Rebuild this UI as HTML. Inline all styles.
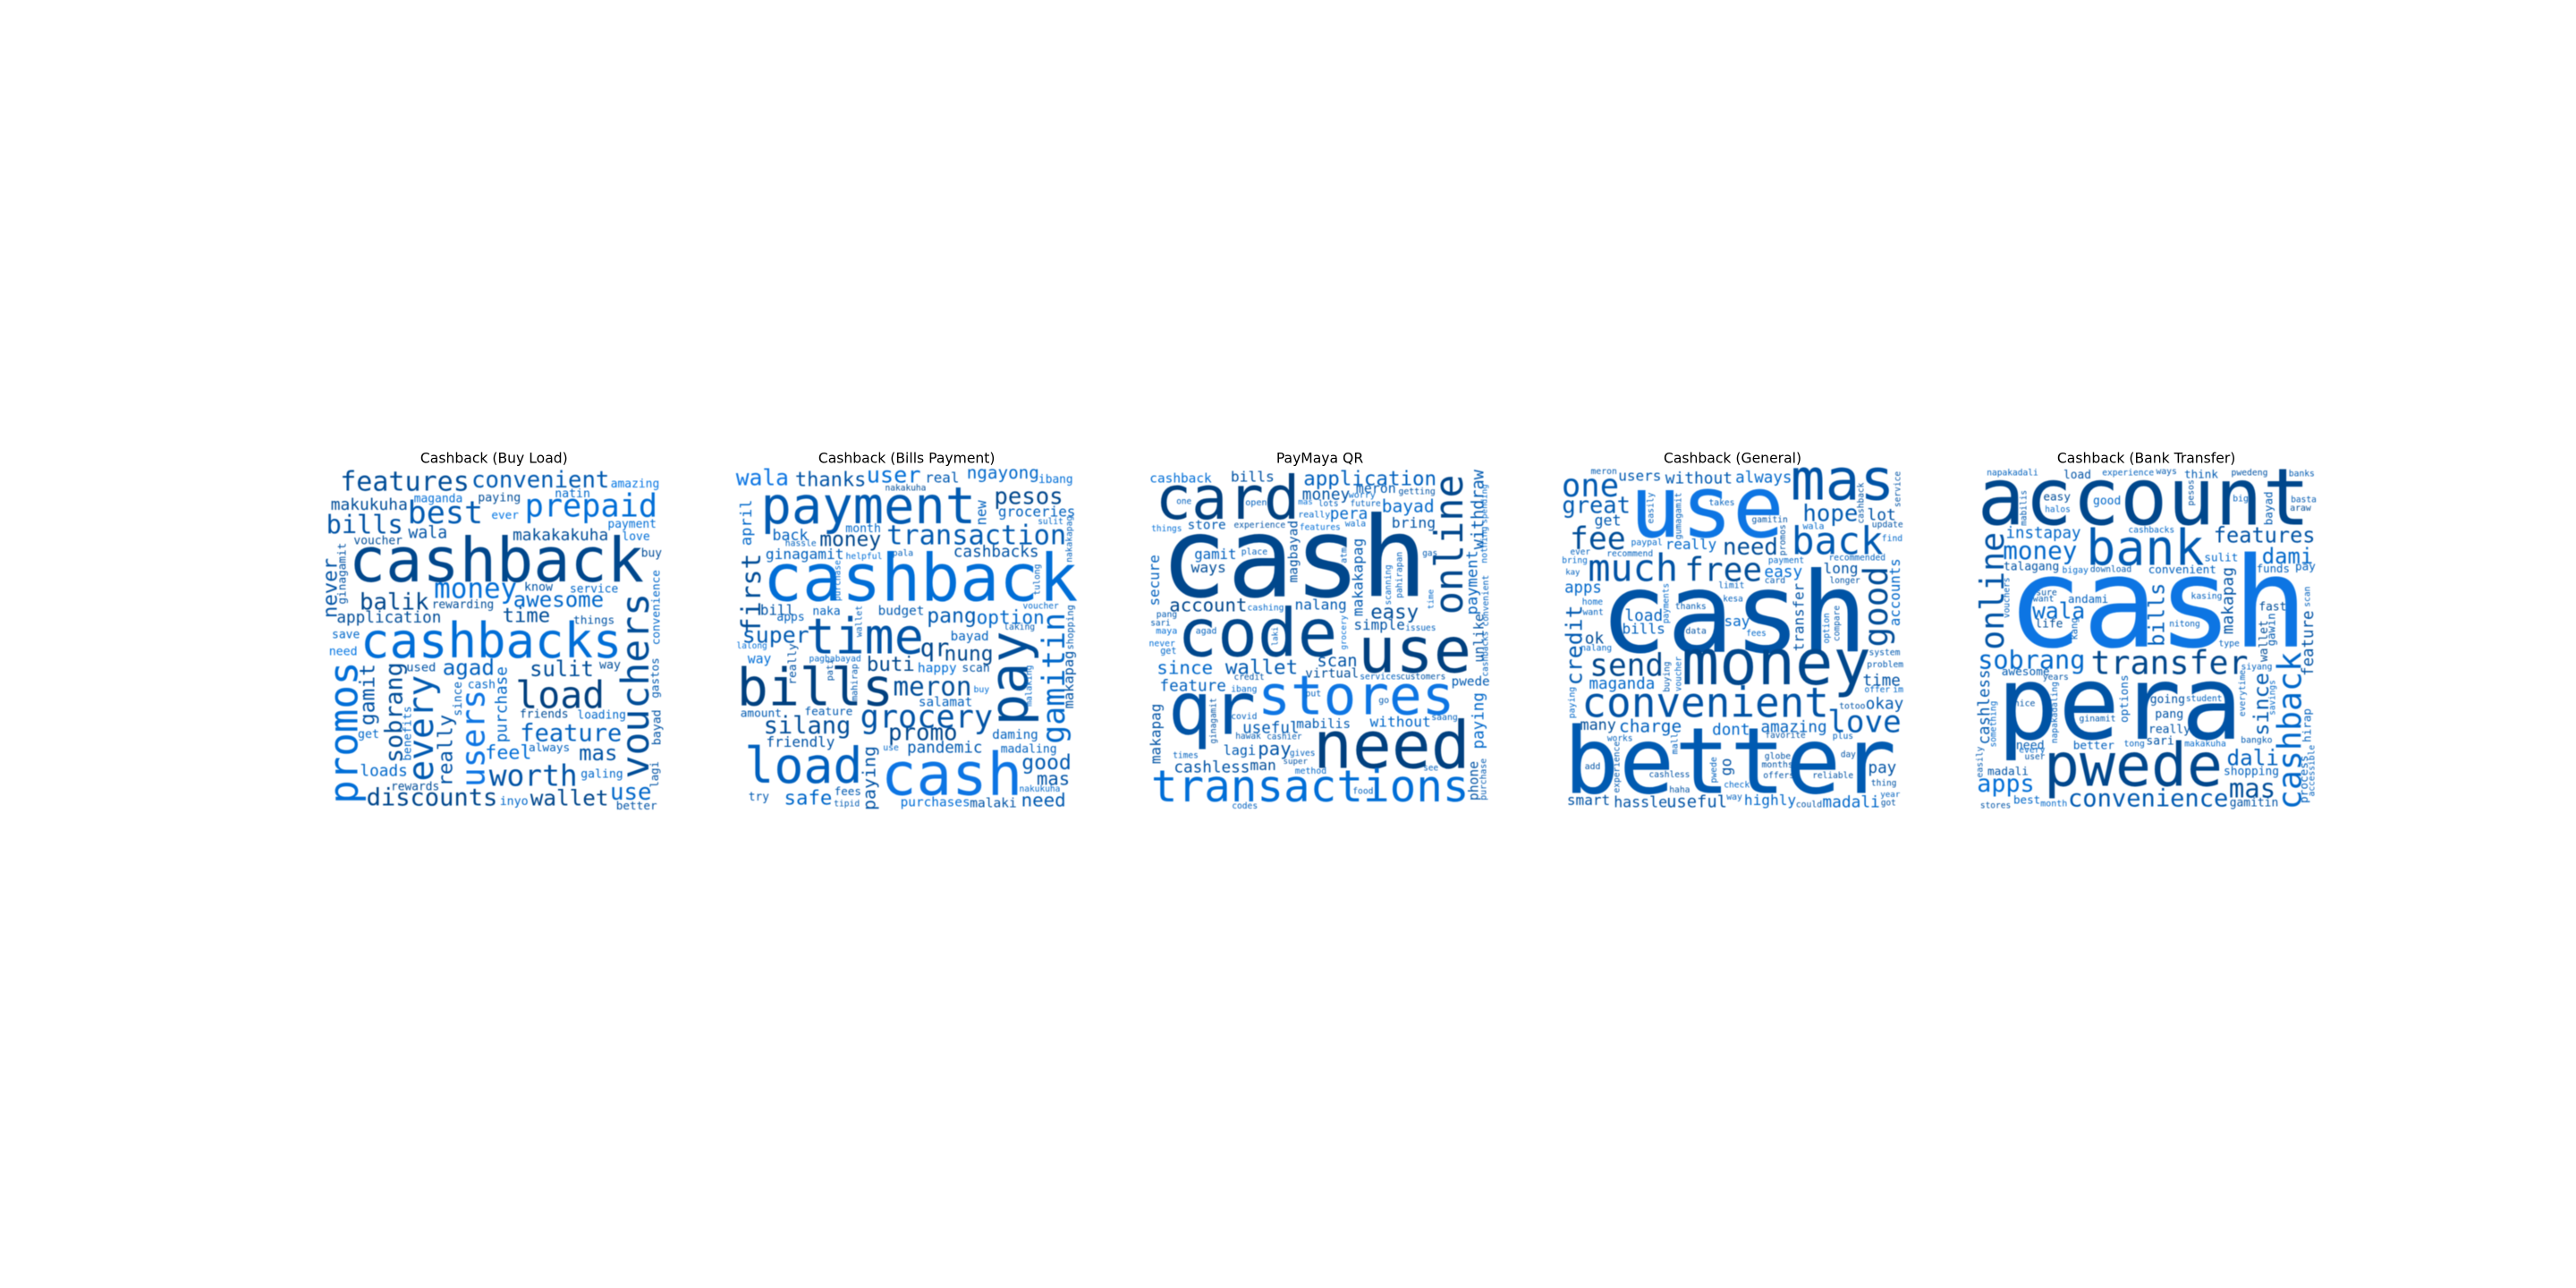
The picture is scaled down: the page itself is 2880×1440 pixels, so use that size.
<!DOCTYPE html>
<html lang="en">
<head>
<meta charset="utf-8">
<title>Cashback word clouds</title>
<style>
html,body{margin:0;padding:0;background:#fff;width:2880px;height:1440px;overflow:hidden}
svg{display:block}
.t{font-family:"DejaVu Sans","Liberation Sans",sans-serif;font-size:15.6px;fill:#000;text-anchor:middle}
.w{font-family:"DejaVu Sans Mono","Liberation Mono",monospace}
</style>
</head>
<body>
<svg id="chart" width="2880" height="1440" viewBox="0 0 2880 1440" xmlns="http://www.w3.org/2000/svg">
<defs><filter id="soft" x="-5%" y="-5%" width="110%" height="110%"><feGaussianBlur stdDeviation="0.4"/></filter></defs>
<rect width="2880" height="1440" fill="#fff"/>
</svg>
<script>
// Each row: word, left, baseline, ink length, colour shade 0-9, vertical flag (cloud units)
const buyLoad=[["features",125,175,425,2],["convenient",565,165,455,4],["amazing",1030,165,160,8],["natin",843,198,115,6],["maganda",370,215,160,7],["paying",585,212,140,2],["makukuha",92,240,253,2],["best",352,285,243,4],["prepaid",745,262,435,7],["ever",630,270,88,8],["bills",78,318,250,3],["payment",1020,300,160,7],["wala",352,335,126,3],["makakakuha",702,342,316,2],["love",1068,342,90,7],["voucher",168,356,160,2],["cashback",160,480,970,1],["buy",1132,398,66,2],["never",110,600,195,3,1],["ginagamit",140,555,203,3,1],["money",440,535,270,7],["know",740,512,92,3],["service",893,518,159,6],["balik",190,575,225,1],["rewarding",430,570,205,2],["awesome",705,565,297,6],["convenience",1192,692,249,6,1],["time",668,617,154,2],["application",112,618,346,2],["things",905,622,135,3],["vouchers",1155,1135,610,2,1],["save",95,670,90,6],["cashbacks",197,735,861,7],["need",85,728,92,8],["promos",178,1220,465,7,1],["used",345,782,95,3],["way",992,772,68,2],["agad",468,793,167,5],["sulit",760,798,208,2],["gamit",235,960,200,3,1],["sobrang",328,1085,330,2,1],["every",432,1145,345,4,1],["users",605,1165,317,8,1],["since",528,930,112,5,1],["cash",550,838,90,6],["purchase",680,1018,250,6,1],["load",715,905,287,0],["gastos",1190,870,132,4,1],["friends",725,938,160,2],["loading",918,940,160,6],["really",497,1165,235,3,1],["bayad",1195,1028,116,3,1],["feature",728,1015,334,5],["get",182,1005,68,6],["benefits",358,1080,180,6,1],["feel",610,1075,150,7],["always",755,1050,135,5],["mas",925,1080,123,3],["lagi",1188,1170,85,3,1],["loads",190,1132,155,6],["worth",625,1165,287,3],["galing",930,1138,138,6],["rewards",293,1180,159,2],["discounts",213,1232,432,1],["inyo",658,1230,92,6],["wallet",762,1232,256,1],["use",1030,1212,132,6],["better",1048,1245,134,3]];
const billsPayment=[["wala",72,158,170,8],["thanks",270,160,232,3],["user",510,148,175,7],["real",705,148,110,4],["ngayong",845,135,238,6],["ibang",1085,150,112,7],["nakakuha",570,175,135,2],["payment",160,285,705,4],["pesos",938,220,224,1],["new",908,290,80,5,1],["groceries",950,263,255,5],["april",120,358,150,6,1],["sulit",1082,288,83,6],["month",438,315,115,6],["transaction",578,355,594,4],["nakakapag",1195,415,153,5,1],["back",193,342,115,5],["money",352,362,200,1],["hassle",235,362,102,5],["first",150,650,260,2,1],["ginagamit",170,405,258,5],["cashbacks",800,398,282,3],["pala",595,395,67,5],["helpful",438,405,120,7],["purchase",418,545,135,7,1],["cashback",170,545,1035,7],["tulong",1088,525,102,5,1],["voucher",1032,572,118,6],["bill",152,592,110,3],["naka",327,592,90,5],["budget",547,592,151,4],["apps",207,612,90,5],["pang",712,618,160,4],["option",878,622,222,6],["shopping",1200,708,148,4,1],["laking",968,642,102,4],["wallet",490,665,103,5,1],["super",93,685,217,4],["time",310,722,380,3],["gamitin",1170,1020,430,6,1],["bayad",790,678,125,5],["lalong",72,705,100,7],["qr",690,730,90,1],["pay",1045,955,300,2,1],["nung",770,745,158,1],["really",270,825,135,3,1],["way",110,755,75,7],["pagbabayad",315,748,172,6],["makapag",1200,905,190,3,1],["buti",510,780,155,1],["happy",680,785,127,7],["scan",828,783,90,3],["pati",393,812,70,3,1],["mahirap",475,880,122,4,1],["malaking",1060,898,136,6,1],["bills",80,895,508,0],["meron",600,862,255,2],["buy",867,852,50,7],["salamat",683,898,177,5],["amount",85,935,135,4],["feature",300,928,158,4],["grocery",490,970,435,3],["silang",165,990,285,2],["promo",583,1012,225,1],["daming",930,1008,150,5],["friendly",172,1035,226,3],["pandemic",645,1055,248,4],["use",563,1047,50,6],["madaling",958,1055,185,5],["paying",535,1245,210,3,1],["good",1030,1110,160,4],["load",105,1155,380,5],["cash",565,1195,455,8],["mas",1080,1162,105,3],["nakukuha",1020,1185,135,6],["fees",400,1197,87,4],["try",112,1215,66,4],["safe",233,1228,155,6],["tipid",398,1235,84,4],["purchases",622,1235,230,7],["malaki",855,1237,153,3],["need",1028,1235,144,4]];
const payMayaQr=[["cashback",78,148,204,7],["bills",350,145,142,3],["application",595,158,440,5],["card",105,270,465,0],["online",1125,585,457,1,1],["withdraw",1195,370,262,4,1],["meron",770,183,130,4],["money",590,205,155,3],["worry",745,200,87,6],["getting",912,187,121,3],["spending",1208,285,130,6,1],["one",167,220,48,5],["open",398,225,70,5],["mas",575,222,47,7],["lots",643,228,65,5],["future",750,228,100,5],["bayad",857,248,171,6],["really",575,265,105,6],["pera",683,270,122,6],["store",205,305,125,4],["experience",360,300,170,3],["things",83,312,100,7],["features",580,308,135,7],["wala",733,295,67,6],["bring",890,300,143,3],["nothing",1208,418,121,6,1],["magbayad",572,482,204,3,1],["cash",130,530,860,1],["makakapag",790,595,257,4,1],["payment",1175,590,212,5,1],["place",385,390,85,5],["gamit",228,405,137,5],["gas",992,395,48,4],["atm",736,418,50,5,1],["secure",108,560,167,5,1],["ways",217,450,113,2],["pahirapan",922,535,153,5,1],["scanning",885,558,133,6,1],["convenient",1212,630,170,5,1],["time",1028,572,64,6,1],["account",145,580,255,1],["cashing",405,578,120,6],["nalang",565,575,170,4],["easy",820,605,155,2],["pang",100,600,67,4],["sari",80,628,65,4],["maya",98,655,69,7],["agad",232,655,68,5],["simple",763,642,167,3],["issues",935,645,100,5],["grocery",735,708,113,7,1],["unlike",1195,750,160,3,1],["code",180,730,515,1],["laki",505,695,62,5,1],["use",785,785,360,0],["cashbacks",1210,798,150,5,1],["never",75,698,85,7],["get",113,723,52,6],["scan",640,765,130,3],["since",103,790,182,6],["wallet",333,790,237,4],["virtual",600,802,175,2],["credit",360,810,100,3],["services",782,808,136,5],["customers",918,808,150,3],["pwede",1090,830,125,4],["feature",112,848,218,5],["ibang",350,850,85,6],["stores",448,925,642,8],["put",600,865,50,5],["go",845,888,33,4],["paying",1195,1040,185,6,1],["qr",150,992,270,3],["makapag",112,1090,198,3,1],["ginagamit",298,1023,151,3,1],["covid",350,942,85,5],["saang",1022,945,86,5],["without",817,968,200,6],["useful",390,988,185,4],["mabilis",570,972,178,4],["hawak",365,1008,83,4],["cashier",470,1010,115,4],["need",635,1105,505,0],["lagi",325,1062,105,4],["pay",442,1062,106,3],["gives",547,1065,83,5],["times",155,1072,83,5],["super",525,1092,80,3],["man",415,1113,83,2],["cashless",160,1120,250,3],["phone",1178,1213,128,3,1],["purchase",1205,1213,138,4,1],["see",995,1115,48,5],["method",565,1125,103,6],["transactions",88,1218,1052,7],["food",758,1192,67,5],["codes",353,1242,84,5]];
const generalCashback=[["meron",177,120,85,4],["users",270,142,140,4],["without",428,152,220,4],["always",663,148,185,6],["mas",855,205,330,3],["service",1213,230,118,3,1],["one",83,195,182,4],["use",320,330,490,8],["cashback",1090,285,135,3,1],["great",83,250,222,4],["takes",573,225,84,5],["easily",385,285,102,5,1],["gumagamit",478,338,155,5,1],["hope",890,278,178,4],["lot",1105,275,92,3],["get",190,292,85,4],["gamitin",717,282,118,3],["update",1120,298,102,3],["wala",888,305,69,6],["fee",110,372,178,2],["promos",828,392,102,3,1],["back",855,388,295,4],["find",1153,345,67,6],["paypal",312,358,103,6],["really",428,372,167,6],["need",622,390,178,2],["ever",108,390,65,5],["recommend",230,396,153,5],["bring",80,418,83,6],["payment",772,418,118,6],["recommended",975,410,188,5],["much",172,478,290,3],["free",495,478,250,2],["easy",760,465,123,7],["long",958,453,112,3],["kay",92,458,46,5],["accounts",1212,628,223,6,1],["good",1170,695,260,2,1],["card",760,486,67,4],["longer",978,486,100,3],["transfer",890,712,224,3,1],["apps",90,518,120,6],["limit",605,503,85,5],["payments",437,620,133,6,1],["cash",225,715,860,3],["kesa",620,547,65,5],["home",148,558,67,6],["thanks",460,573,102,4],["want",150,593,67,5],["compare",1010,680,118,4,1],["load",292,612,123,5],["option",975,687,100,6,1],["say",625,630,82,6],["credit",145,825,262,4,1],["bills",283,655,140,5],["data",495,656,67,3],["fees",698,663,65,6],["ok",158,688,59,2],["nalang",143,713,102,6],["system",1110,728,102,4],["send",177,797,238,1],["money",490,825,615,1],["problem",1103,768,120,4],["buying",440,850,100,4,1],["voucher",478,848,115,6,1],["time",1090,830,122,3],["maganda",172,840,216,6],["offer",1095,852,83,6],["im",1190,852,33,6],["paying",122,938,103,6,1],["convenient",152,935,816,3],["totoo",1010,908,85,3],["okay",1100,908,122,4],["love",975,985,237,4],["many",142,978,116,2],["charge",273,985,205,5],["dont",585,995,122,6],["amazing",748,985,217,5],["favorite",762,1005,133,3],["plus",988,1008,67,5],["works",232,1015,83,5],["mall",467,1058,68,5,1],["experience",272,1188,170,4,1],["globe",760,1075,85,3],["day",1015,1070,48,3],["months",750,1104,103,3],["better",100,1190,1085,4],["go",647,1130,55,3,1],["pwede",597,1155,85,5,1],["add",157,1110,50,3],["pay",1108,1122,90,3],["cashless",372,1137,135,3],["offers",755,1140,102,3],["reliable",920,1140,135,3],["thing",1117,1165,83,3],["check",623,1172,84,6],["haha",440,1188,67,3],["year",1148,1203,64,5],["way",632,1212,50,5],["highly",692,1230,170,6],["smart",98,1230,140,3],["hassle",255,1237,175,3],["useful",432,1237,198,3],["could",865,1238,85,3],["madali",955,1238,188,6],["got",1150,1232,48,3]];
const bankTransfer=[["napakadali",125,125,170,5],["load",383,135,89,3],["experience",512,125,171,5],["ways",693,120,67,4],["think",788,133,110,4],["pwedeng",945,125,120,3],["banks",1138,128,84,4],["account",105,290,1090,1],["pesos",817,225,85,3,1],["mabilis",257,292,117,4,1],["easy",315,208,88,2],["good",482,222,90,6],["big",950,212,50,5],["bayad",1082,290,110,4,1],["basta",1145,215,83,4],["halos",320,248,83,6],["araw",1142,243,68,2],["cashbacks",600,316,152,6],["instapay",190,335,247,6],["features",888,350,334,3],["bank",465,425,380,4],["online",180,705,385,3,1],["money",182,405,241,6],["dami",1050,420,165,6],["sulit",855,413,110,6],["talagang",182,443,183,3],["bigay",378,452,85,6],["download",472,448,136,4],["convenient",667,453,225,5],["funds",1030,450,108,5],["pay",1160,442,65,5],["makapag",950,655,220,3,1],["bills",718,695,207,5,1],["vouchers",200,602,134,5,1],["scan",1207,565,67,5,1],["sure",290,527,68,3],["want",280,547,68,4],["kasing",810,538,102,5],["andami",398,552,132,5],["cash",213,698,967,8],["fast",1038,578,89,2],["wala",280,605,170,6],["life",288,635,89,2],["kang",427,675,72,5,1],["nitong",737,632,101,5],["feature",1218,795,215,3,1],["gawin",1090,695,107,4,1],["wallet",1065,748,136,2,1],["type",903,698,67,5],["sobrang",98,772,352,6],["transfer",478,790,517,1],["siyang",978,775,102,5],["awesome",175,795,158,4],["years",313,810,84,3],["cashless",132,1025,247,4,1],["everytime",990,932,154,5,1],["cashback",1178,1240,518,6,1],["since",1068,995,205,4,1],["options",597,952,157,5,1],["napakadaling",360,1022,204,5,1],["savings",1090,928,116,6,1],["pera",175,1008,790,3],["going",673,888,114,3],["student",793,882,119,5],["nice",217,898,68,3],["something",155,1035,153,6,1],["hirap",1210,1018,110,5,1],["pang",690,938,92,3],["ginamit",435,950,120,4],["really",668,988,137,3],["sari",660,1028,90,3],["tong",585,1033,67,5],["makakuha",788,1033,137,6],["bangko",977,1022,103,4],["need",223,1042,92,4],["better",415,1043,135,5],["every",233,1055,85,6],["user",252,1077,66,3],["easily",110,1137,102,4,1],["accessible",1222,1200,170,5,1],["process",1200,1222,157,5,1],["dali",932,1097,168,5],["pwede",325,1165,580,1],["shopping",920,1130,182,5],["madali",128,1130,134,3],["apps",95,1185,185,7],["mas",940,1205,148,2],["convenience",400,1235,530,4],["best",215,1225,87,6],["month",305,1235,87,6],["gamitin",940,1235,160,3],["stores",103,1240,100,3]];

const panelTitles=["Cashback (Buy Load)","Cashback (Bills Payment)","PayMaya QR","Cashback (General)","Cashback (Bank Transfer)"];
const panelNames=["buy-load","bills-payment","paymaya-qr","general","bank-transfer"];
const panelWords=[buyLoad,billsPayment,payMayaQr,generalCashback,bankTransfer];
const titleCentres=[637,641,646.5,651,659];

const NS="http://www.w3.org/2000/svg";
const root=document.getElementById("chart");
const xScale=(p,v)=>340+460*p+v/3;
const yScale=v=>490+v/3;
const shade=s=>{const a=[0,63,127],b=[8,124,240],t=s/9;return "rgb("+a.map((c,i)=>Math.round(c+(b[i]-c)*t)).join(",")+")";};
const fontSizeFor=(word,len)=>(len/3)/(0.602*word.length-0.1);

panelWords.forEach((rows,p)=>{
  const title=document.createElementNS(NS,"text");
  
  
  title.setAttribute("class","t");
  title.setAttribute("x",xScale(p,titleCentres[p]));
  title.setAttribute("y",yScale(83));
  title.textContent=panelTitles[p];
  root.appendChild(title);
  const g=document.createElementNS(NS,"g");
  
  
  g.setAttribute("filter","url(#soft)");
  rows.forEach(r=>{
    const fs=fontSizeFor(r[0],r[3]);
    const el=document.createElementNS(NS,"text");
    
    
    el.setAttribute("class","w");
    el.setAttribute("font-size",fs.toFixed(2));
    el.setAttribute("fill",shade(r[4]));
    const x=xScale(p,r[1]),y=yScale(r[2]);
    if(r[5]){
      el.setAttribute("transform","translate("+x.toFixed(1)+" "+(y+0.05*fs).toFixed(1)+") rotate(-90)");
    }else{
      el.setAttribute("x",(x-0.05*fs).toFixed(1));
      el.setAttribute("y",y.toFixed(1));
    }
    el.textContent=r[0];
    g.appendChild(el);
  });
  root.appendChild(g);
});
</script>
</body>
</html>
